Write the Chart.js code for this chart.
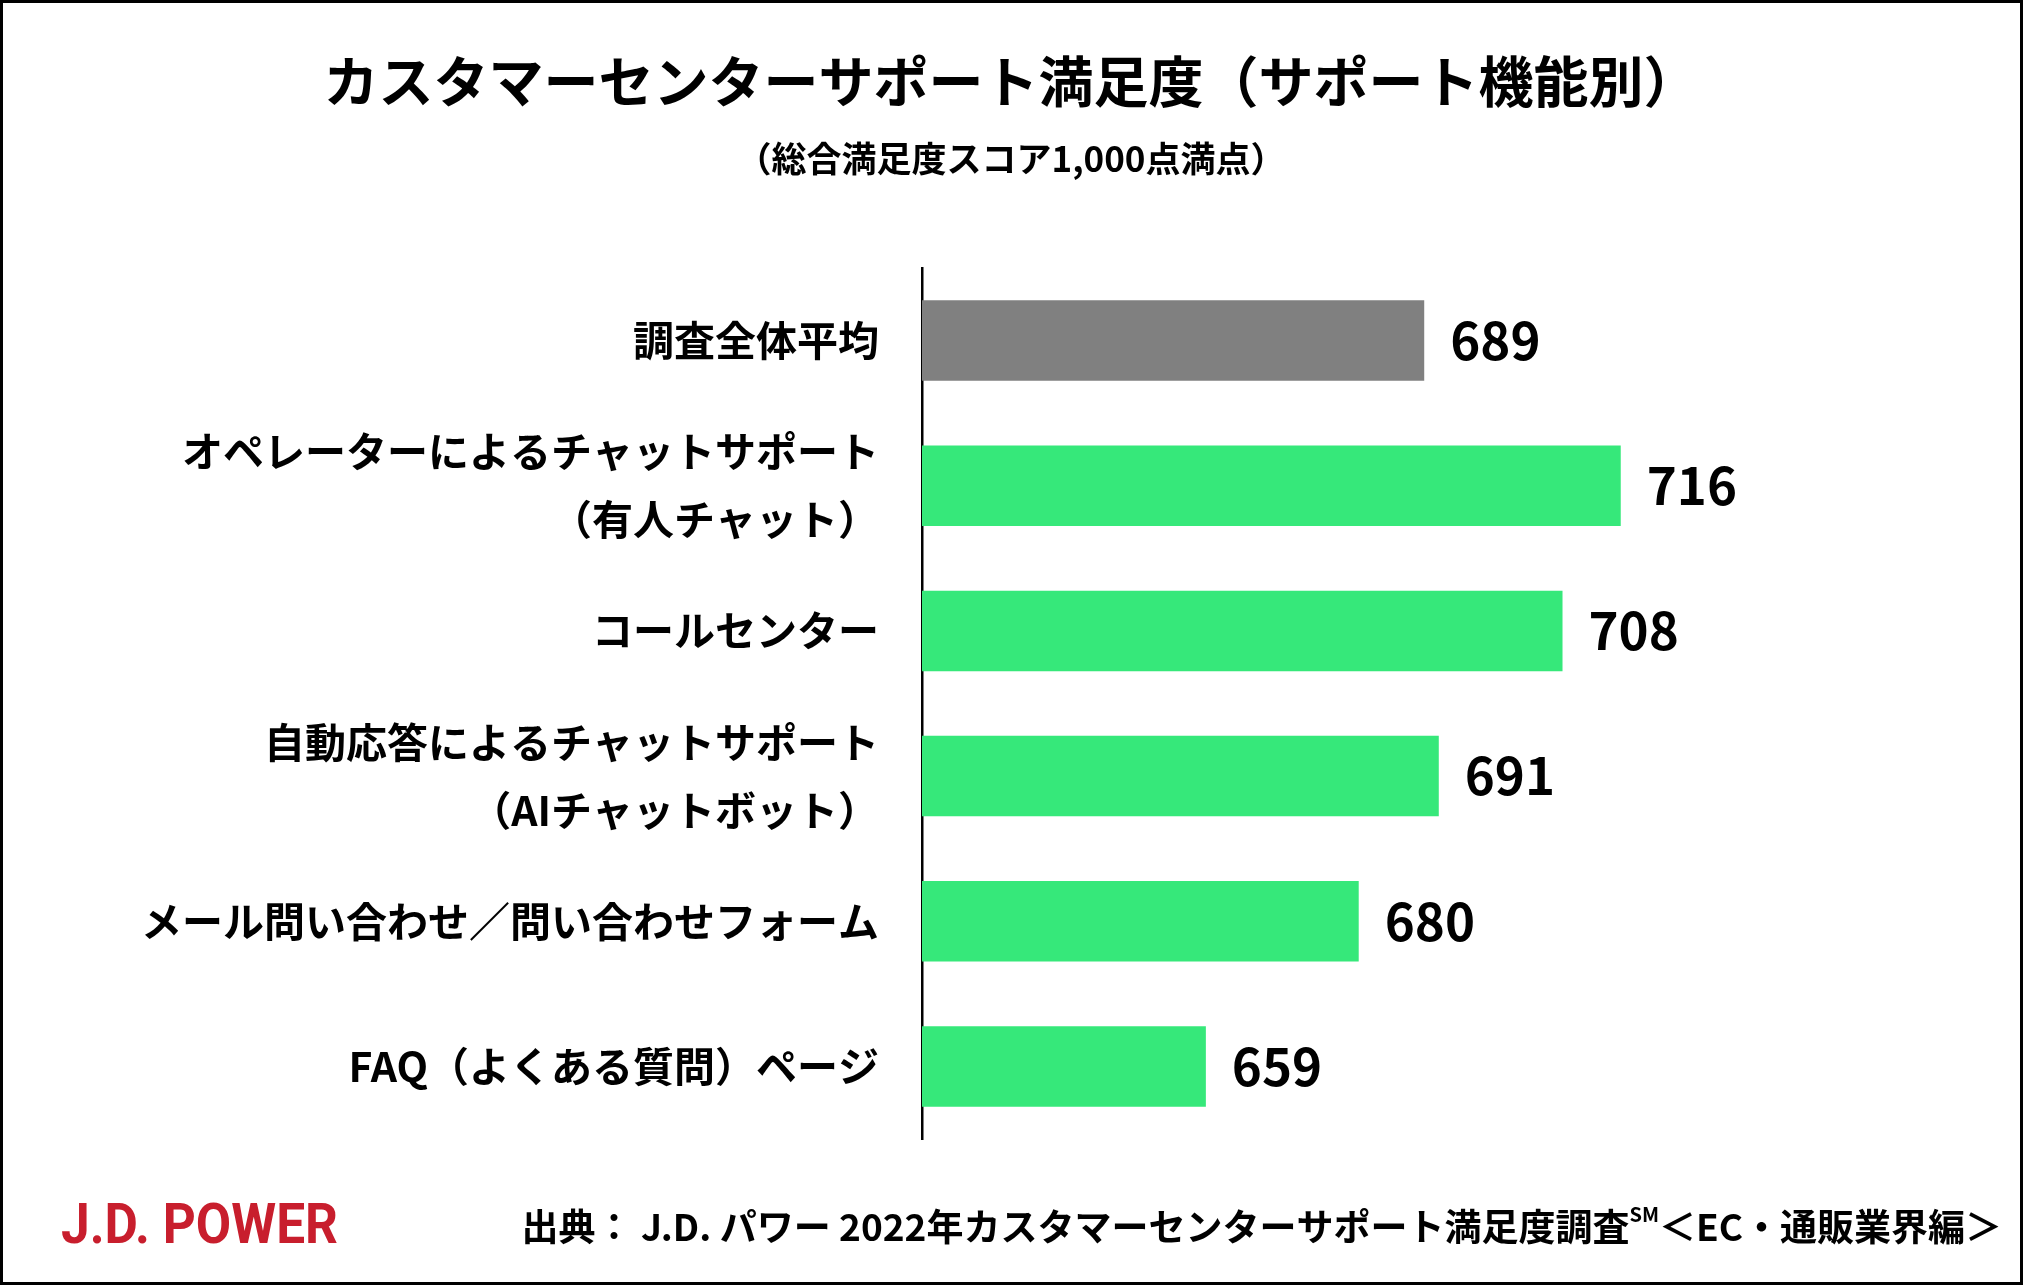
<!DOCTYPE html>
<html lang="ja">
<head>
<meta charset="utf-8">
<script src="https://cdn.jsdelivr.net/npm/chart.js@4.4.0/dist/chart.umd.min.js"></script>
<style>
  html, body { margin: 0; padding: 0; background: #fff; }
  #wrap { width: 2023px; height: 1285px; position: relative; }
</style>
</head>
<body>
<div id="wrap"><canvas id="satisfaction"></canvas></div>
<script>
// categories, top to bottom
const categories = [
  '調査全体平均',
  ['オペレーターによるチャットサポート', '（有人チャット）'],
  'コールセンター',
  ['自動応答によるチャットサポート', '（AIチャットボット）'],
  'メール問い合わせ／問い合わせフォーム',
  'FAQ（よくある質問）ページ',
];
const scores = [689, 716, 708, 691, 680, 659];

const titleText = 'カスタマーセンターサポート満足度（サポート機能別）';
const subtitleText = '（総合満足度スコア1,000点満点）';
const sourceMain = '出典： J.D. パワー 2022年カスタマーセンターサポート満足度調査';
const sourceMark = 'SM';
const sourceTail = '＜EC・通販業界編＞';
const logoText = 'J.D. POWER';

const JP = '"Noto Sans CJK JP", "Noto Sans", sans-serif';
const GRAY = 'rgb(128,128,128)';
const GREEN = 'rgb(54,232,122)';

// titles, footer, frame and value labels
const decorations = {
  id: 'decorations',
  afterDatasetsDraw(chart) {
    const ctx = chart.ctx;
    const w = chart.width, h = chart.height;
    ctx.save();

    // value labels next to bar ends
    ctx.fillStyle = '#000';
    ctx.font = 'bold 51px ' + JP;
    ctx.textAlign = 'left';
    ctx.textBaseline = 'middle';
    chart.getDatasetMeta(0).data.forEach((bar, i) => {
      ctx.fillText(String(scores[i]), bar.x + 26, bar.y);
    });

    // title + subtitle
    ctx.textAlign = 'center';
    ctx.font = 'bold 55px ' + JP;
    ctx.fillText(titleText, 1011, 81);
    ctx.font = 'bold 35px ' + JP;
    ctx.fillText(subtitleText, 1011, 159);

    // source line, right aligned
    ctx.textAlign = 'left';
    ctx.font = 'bold 37px ' + JP;
    const tailW = ctx.measureText(sourceTail).width;
    const mainW = ctx.measureText(sourceMain).width;
    ctx.font = 'bold 20px ' + JP;
    const markW = ctx.measureText(sourceMark).width;
    let x = 2002 - tailW - markW - mainW;
    ctx.font = 'bold 37px ' + JP;
    ctx.fillText(sourceMain, x, 1227);
    x += mainW;
    ctx.font = 'bold 20px ' + JP;
    ctx.fillText(sourceMark, x, 1214);
    x += markW;
    ctx.font = 'bold 37px ' + JP;
    ctx.fillText(sourceTail, x, 1227);

    // logo, squeezed to its width
    ctx.fillStyle = 'rgb(200,30,45)';
    ctx.font = 'bold 56px Roboto, "Liberation Sans", sans-serif';
    const lw = ctx.measureText(logoText).width;
    ctx.save();
    ctx.translate(61, 1229);
    ctx.scale(277 / lw, 1);
    ctx.fillText(logoText, 0, 0);
    ctx.restore();

    // frame
    ctx.strokeStyle = '#000';
    ctx.lineWidth = 3;
    ctx.strokeRect(1.5, 1.5, w - 3, h - 3);
    ctx.restore();
  },
};

const chart = new Chart(document.getElementById('satisfaction').getContext('2d'), {
  type: 'bar',
  data: {
    labels: categories,
    datasets: [
      {
        data: scores,
        backgroundColor: (c) => (c.dataIndex === 0 ? GRAY : GREEN),
        borderWidth: 0,
        categoryPercentage: 1,
        barPercentage: 0.555,
      },
    ],
  },
  options: {
    indexAxis: 'y',
    responsive: true,
    maintainAspectRatio: false,
    animation: false,
    devicePixelRatio: 1,
    layout: { padding: { top: 268, bottom: 146, left: 0, right: 82 } },
    plugins: {
      legend: { display: false },
      tooltip: { enabled: false },
      title: { display: false },
    },
    scales: {
      x: {
        display: false,
        min: 620,
        max: 760,
      },
      y: {
        grid: { display: false, drawTicks: false },
        border: { display: true, color: '#000', width: 2.5 },
        ticks: {
          color: '#000',
          padding: 43,
          font: { family: JP, size: 41, weight: 'bold', lineHeight: 1.66 },
        },
        afterFit: (scale) => {
          scale.width = 922;
        },
      },
    },
  },
  plugins: [decorations],
});
</script>
</body>
</html>
